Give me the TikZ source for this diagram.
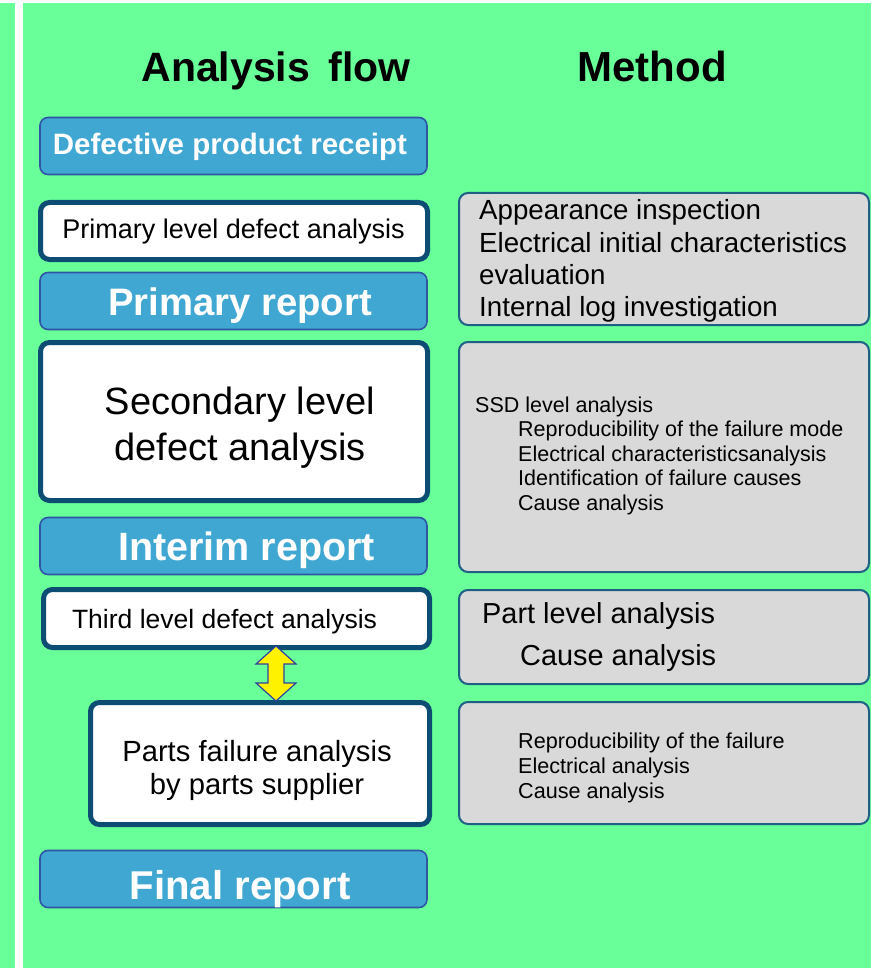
\documentclass[tikz,border=0pt]{standalone}
\usepackage{fontspec}
\setmainfont{Liberation Sans}
\definecolor{bggreen}{RGB}{105,255,153}
\definecolor{boxblue}{RGB}{63,167,209}
\definecolor{edgeblue}{RGB}{47,85,165}
\definecolor{edgenavy}{RGB}{13,76,115}
\definecolor{boxgray}{RGB}{217,217,217}
\definecolor{edgeteal}{RGB}{31,95,132}
\definecolor{arrowedge}{RGB}{48,64,160}
\newcommand{\fs}[1]{\fontsize{#1}{#1}\selectfont}
\begin{document}
\begin{tikzpicture}[x=1pt,y=-1pt,
  bluebox/.style={draw=edgeblue,line width=1.6pt,fill=boxblue,rounded corners=8pt,
    minimum width=387pt,minimum height=57pt,inner sep=0pt},
  whitebox/.style={draw=edgenavy,line width=5pt,fill=white,rounded corners=9pt,inner sep=0pt},
  graybox/.style={draw=edgeteal,line width=2pt,fill=boxgray,rounded corners=9pt,inner sep=0pt,
    minimum width=410pt},
  head/.style={anchor=base,inner sep=0pt},
  btext/.style={anchor=base,inner sep=0pt,text=white},
  wtext/.style={anchor=base,inner sep=0pt},
  mtext/.style={anchor=base west,inner sep=0pt},
  dblarrow/.style={draw=arrowedge,line width=1.2pt,fill=yellow,line join=miter}]

% page background with white rules along the top and left
\fill[bggreen] (0,0) rectangle (871,968);
\fill[white] (0,0) rectangle (871,3);
\fill[white] (15,0) rectangle (23,968);
\useasboundingbox (0,0) rectangle (871,968);

% column headings
\node[head,font=\fs{41}\bfseries] (hflow) at (276,82) {Analysis\hspace{0.45em}flow};
\node[head,font=\fs{42}\bfseries] (hmethod) at (652,82) {Method};

% analysis flow column
\node[bluebox] (receipt) at (233.5,146) {};
\node[btext,font=\fs{29.5}\bfseries] (receipt-t) at (230,155) {Defective product receipt};

\node[whitebox,minimum width=387pt,minimum height=57pt] (primary) at (234,231) {};
\node[wtext,font=\fs{27}] (primary-t) at (233.5,238) {Primary level defect analysis};

\node[bluebox] (preport) at (233.5,301) {};
\node[btext,font=\fs{38.3}\bfseries] (preport-t) at (240,315) {Primary report};

\node[whitebox,minimum width=387pt,minimum height=158pt] (secondary) at (234,421.5) {};
\node[wtext,font=\fs{38}] (secondary-t1) at (240,414) {Secondary level};
\node[wtext,font=\fs{38}] (secondary-t2) at (240,460) {defect analysis};

\node[bluebox] (interim) at (233.5,546) {};
\node[btext,font=\fs{39.5}\bfseries] (interim-t) at (246.5,560) {Interim report};

\node[whitebox,minimum width=386pt,minimum height=58pt] (third) at (236.5,618.5) {};
\node[wtext,font=\fs{26.5}] (third-t) at (224.5,628) {Third level defect analysis};

\node[whitebox,minimum width=339pt,minimum height=122pt] (parts) at (260,763.5) {};
\node[wtext,font=\fs{29.2}] (parts-t1) at (257,761) {Parts failure analysis};
\node[wtext,font=\fs{29.2}] (parts-t2) at (257,794) {by parts supplier};

\node[bluebox] (final) at (233.5,879) {};
\node[btext,font=\fs{40.2}\bfseries] (final-t) at (240,899) {Final report};

% method column
\node[graybox,minimum height=132pt] (m1) at (664,259) {};
\node[mtext,font=\fs{27.7}] (m1-a) at (479,220) {Appearance inspection};
\node[mtext,font=\fs{27.7}] (m1-b) at (479,252) {Electrical initial characteristics};
\node[mtext,font=\fs{27.7}] (m1-c) at (479,284) {evaluation};
\node[mtext,font=\fs{27.7}] (m1-d) at (479,316) {Internal log investigation};

\node[graybox,minimum height=230pt] (m2) at (664,457) {};
\node[mtext,font=\fs{21.5}] (m2-a) at (475,412) {SSD level analysis};
\node[mtext,font=\fs{21.5}] (m2-b) at (518,436.5) {Reproducibility of the failure mode};
\node[mtext,font=\fs{21.5}] (m2-c) at (518,461) {Electrical characteristicsanalysis};
\node[mtext,font=\fs{21.5}] (m2-d) at (518,485.5) {Identification of failure causes};
\node[mtext,font=\fs{21.5}] (m2-e) at (518,510) {Cause analysis};

\node[graybox,minimum height=94pt] (m3) at (664,637) {};
\node[mtext,font=\fs{28.9}] (m3-a) at (482,623) {Part level analysis};
\node[mtext,font=\fs{28.9}] (m3-b) at (520,665) {Cause analysis};

\node[graybox,minimum height=122pt] (m4) at (664,763) {};
\node[mtext,font=\fs{21.6}] (m4-a) at (518,748) {Reproducibility of the failure};
\node[mtext,font=\fs{21.6}] (m4-b) at (518,773) {Electrical analysis};
\node[mtext,font=\fs{21.6}] (m4-c) at (518,798) {Cause analysis};

% two-way link between third level analysis and the parts supplier
\coordinate (link) at (276,673.5);
\draw[dblarrow] ([yshift=27.5pt]link) -- ++(20,18) -- ++(-12,0) -- ++(0,19) -- ++(12,0)
  -- ([yshift=-27.5pt]link) -- ++(-20,-18) -- ++(12,0) -- ++(0,-19) -- ++(-12,0) -- cycle;
\end{tikzpicture}
\end{document}
